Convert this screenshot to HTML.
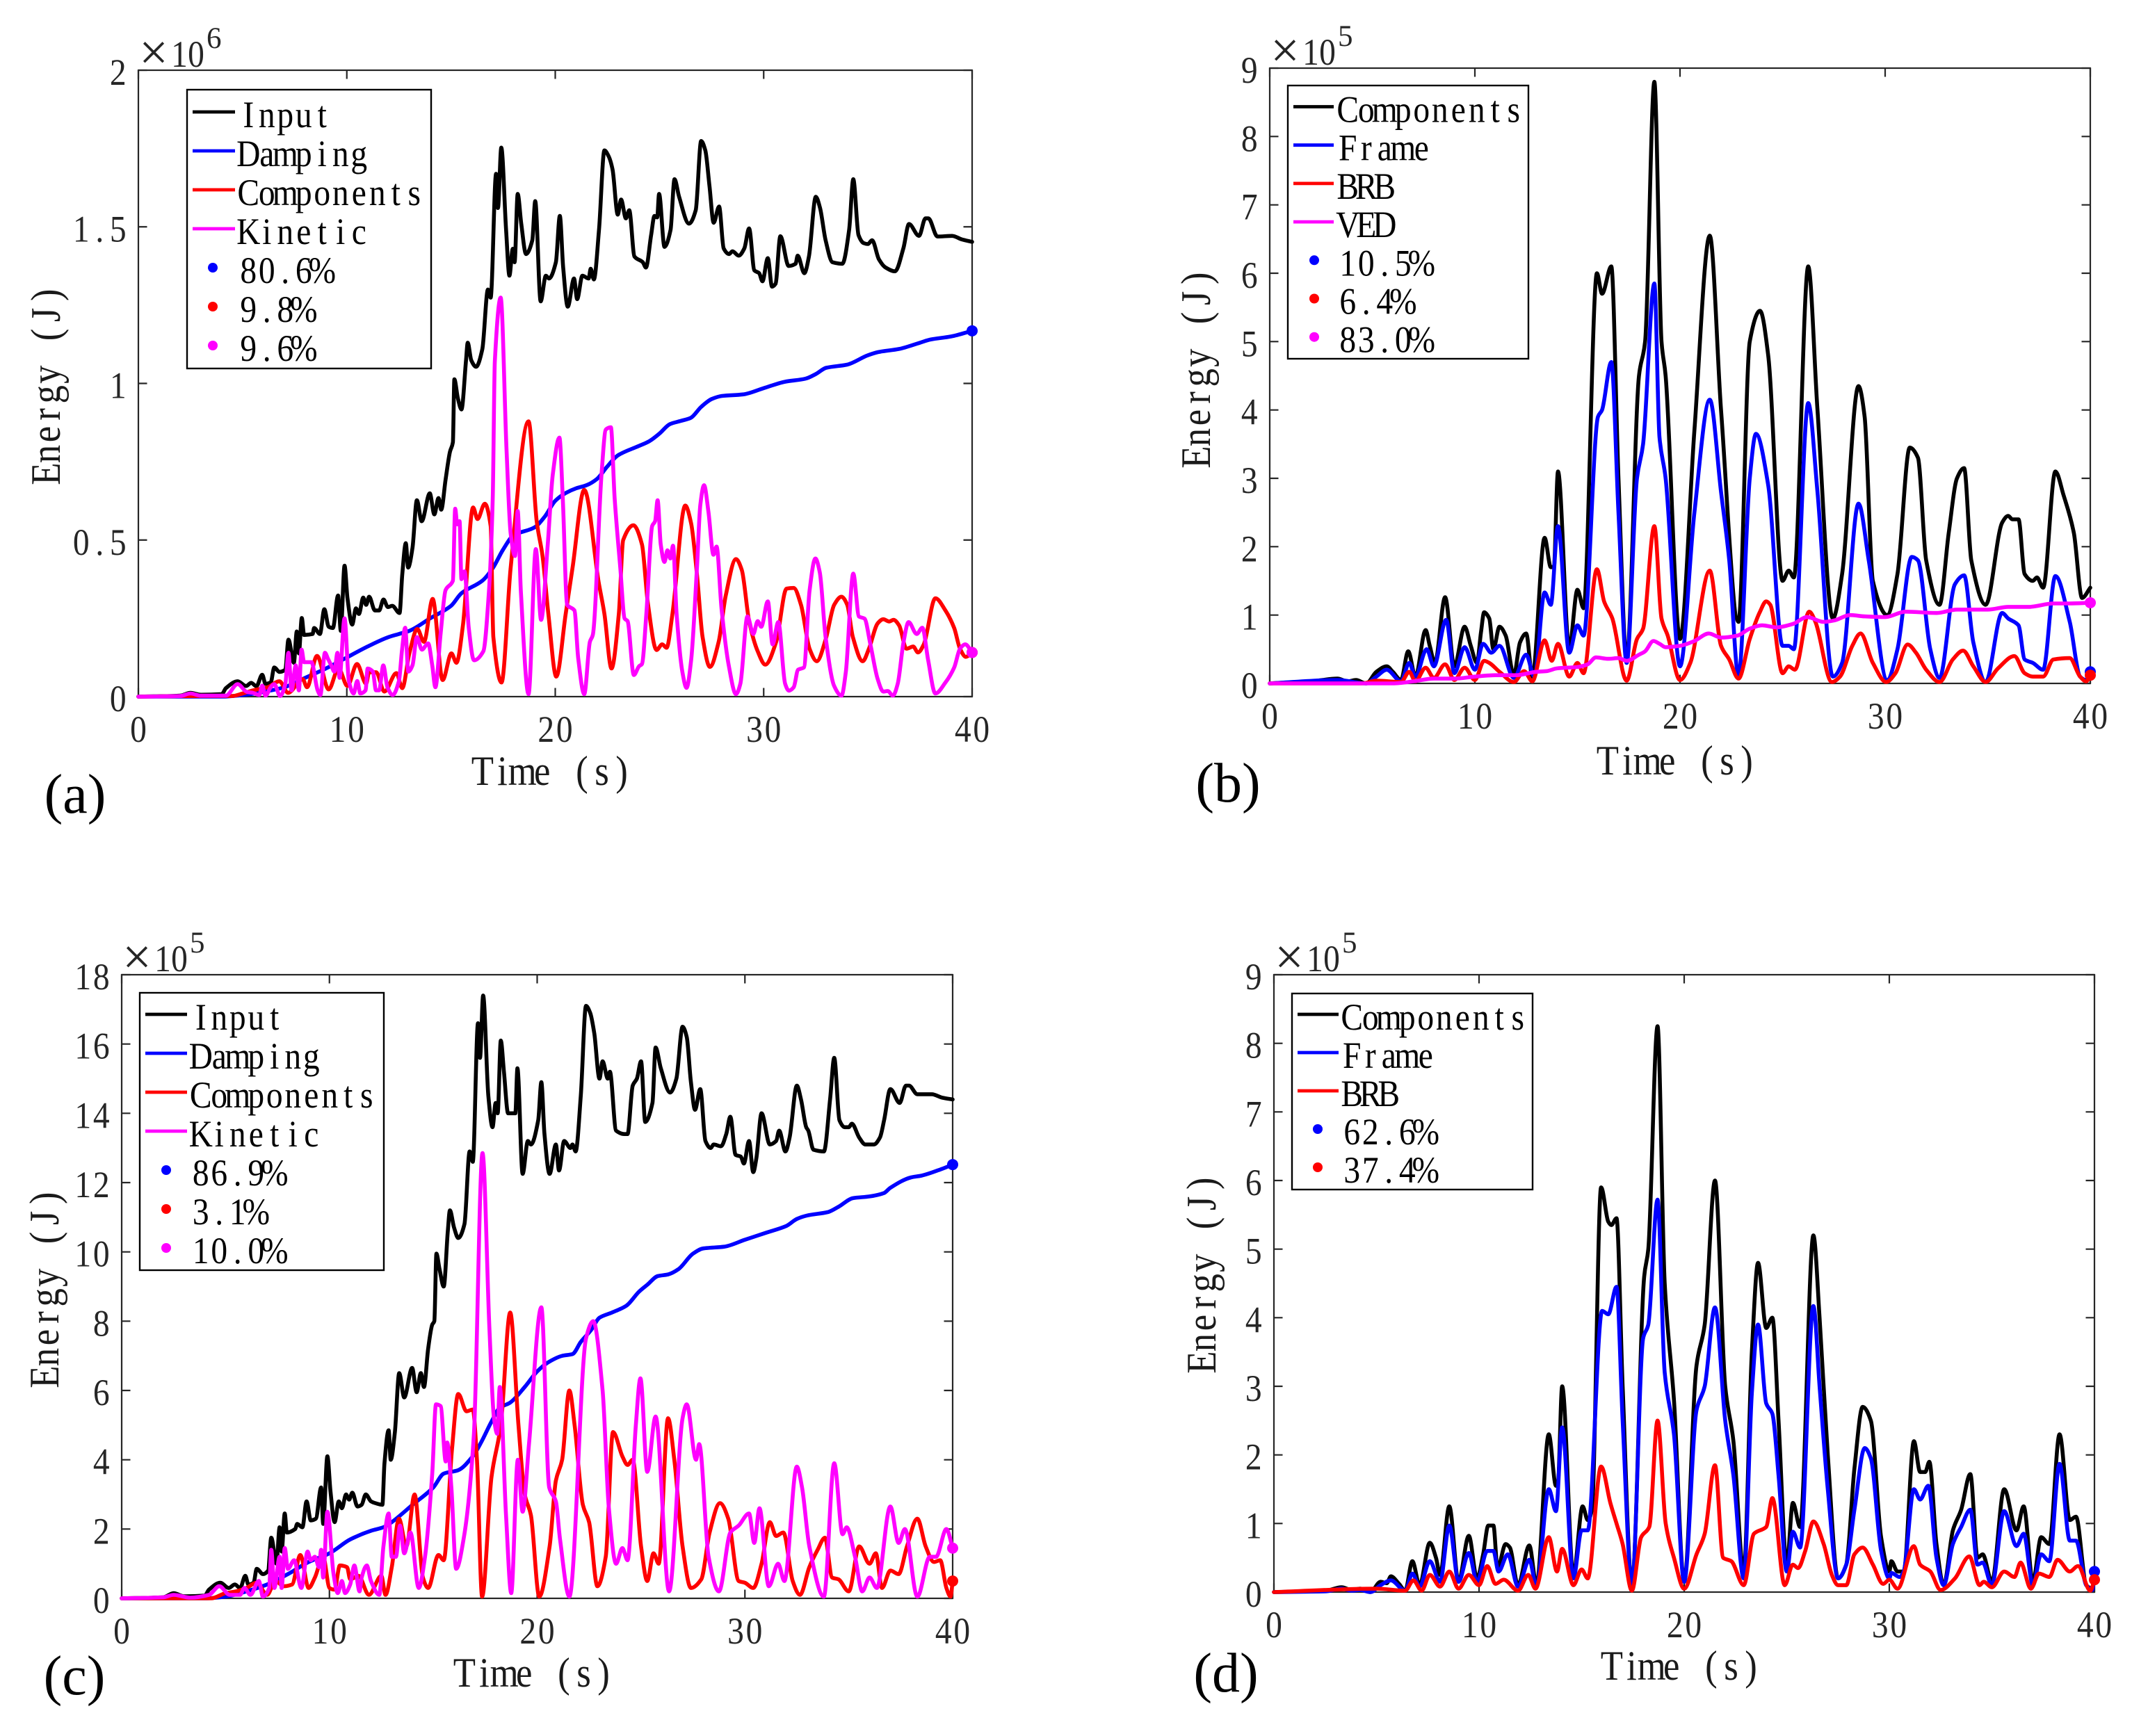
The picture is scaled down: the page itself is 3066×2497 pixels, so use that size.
<!DOCTYPE html>
<html lang="en">
<head>
<meta charset="utf-8">
<title>Energy time histories</title>
<style>
html,body{margin:0;padding:0;background:#fff;}
svg{display:block;}
text{font-family:"Liberation Serif","Noto Serif CJK SC",serif;}
</style>
</head>
<body>
<svg id="figure" xmlns="http://www.w3.org/2000/svg" width="3066" height="2497" viewBox="0 0 3066 2497">
<rect x="0" y="0" width="3066" height="2497" fill="#fff"/>
</svg>
<script>
// ---------- shared axis data ----------
const xTickValues=[0,10,20,30,40];
const xTickLabels=['0','10','20','30','40'];
const xMax=40;

// ---------- panel (a), values in 1e6 J ----------
const aYTicks=[0,0.5,1,1.5,2];
const aYLabels=['0','0.5','1','1.5','2'];
const aLegend=['Input','Damping','Components','Kinetic','80.6%','9.8%','9.6%'];
const aInputT=[0,2,2.5,3,4,4.2,4.76,5.17,5.41,5.66,5.94,6.1,6.35,6.52,6.77,7.05,7.2,7.46,7.6,7.7,7.84,7.95,8.36,8.43,8.71,8.92,9.13,9.33,9.58,9.71,9.89,10.03,10.26,10.44,10.58,10.79,10.93,11.07,11.35,11.55,11.76,11.97,12.18,12.53,12.66,12.83,12.94,13.15,13.36,13.59,13.98,14.2,14.4,14.53,14.74,14.95,15.09,15.16,15.33,15.5,15.72,15.8,15.97,16.2,16.5,16.77,16.9,17.16,17.25,17.41,17.64,17.8,17.96,18.05,18.2,18.37,18.6,18.9,19.04,19.3,19.55,19.7,20.03,20.22,20.38,20.6,20.9,21.05,21.3,21.6,21.7,21.85,22.1,22.36,22.55,22.75,23,23.16,23.39,23.55,23.8,24.2,24.35,24.6,24.76,24.89,24.98,25.24,25.53,25.72,25.94,26.42,26.74,27,27.2,27.4,27.6,27.86,28.08,28.34,28.5,28.8,29.07,29.3,29.55,29.78,29.94,30.2,30.4,30.57,30.8,31.2,31.53,31.63,31.95,32.17,32.5,32.7,32.97,33.3,33.77,34.1,34.3,34.55,34.8,35,35.2,35.53,35.85,36.3,36.7,36.97,37.45,37.76,37.9,38.34,39.04,39.5,40];
const aInputV=[0,.003,.012,.006,.008,.027,.049,.034,.044,.033,.07,.041,.045,.093,.079,.086,.182,.108,.208,.138,.251,.197,.2,.219,.2,.279,.223,.219,.323,.21,.418,.316,.23,.282,.264,.316,.293,.319,.275,.275,.31,.286,.29,.267,.39,.49,.412,.475,.627,.56,.649,.582,.634,.597,.693,.782,.812,1.013,.952,.917,1.074,1.13,1.074,1.053,1.109,1.3,1.274,1.669,1.56,1.753,1.49,1.344,1.43,1.387,1.605,1.51,1.413,1.457,1.582,1.262,1.344,1.335,1.387,1.535,1.37,1.245,1.335,1.269,1.344,1.335,1.366,1.332,1.49,1.744,1.727,1.683,1.539,1.587,1.527,1.553,1.405,1.387,1.37,1.474,1.535,1.53,1.605,1.436,1.49,1.652,1.596,1.51,1.553,1.774,1.744,1.63,1.513,1.565,1.431,1.413,1.422,1.408,1.431,1.495,1.361,1.352,1.326,1.4,1.309,1.318,1.47,1.375,1.382,1.408,1.352,1.405,1.596,1.561,1.457,1.387,1.382,1.49,1.652,1.474,1.448,1.445,1.457,1.396,1.37,1.358,1.431,1.509,1.471,1.527,1.527,1.469,1.471,1.46,1.452];
const aDampingT=[0,4,5,6,7,8,9,10,11,12,12.5,13,14,15,15.5,16.5,17,17.5,18,19,19.5,20,20.5,21,21.5,22,22.5,23,24,24.5,25,25.5,26,26.5,27,27.5,28,29,30,31,32,32.5,33,34,35,35.5,36.5,37.5,38,39,40];
const aDampingV=[0,0,.005,.015,.03,.06,.09,.125,.16,.19,.2,.21,.25,.29,.33,.37,.41,.47,.515,.54,.575,.625,.65,.665,.675,.695,.735,.77,.8,.815,.84,.87,.88,.89,.925,.95,.96,.965,.985,1.005,1.015,1.03,1.05,1.06,1.09,1.10,1.11,1.13,1.14,1.15,1.168];
const aCompT=[0,3,4.5,5,5.5,6.2,6.77,7.18,7.88,8.09,8.57,9.13,9.6,10.03,10.49,10.93,11.07,11.41,11.8,12.38,12.66,13,13.38,13.7,14.12,14.6,15.02,15.26,15.57,16.06,16.27,16.62,16.9,17.03,17.42,17.86,18.72,19.11,19.39,19.67,20.05,20.5,20.83,21.39,22.08,22.36,22.7,23.05,23.26,23.75,24.16,24.44,24.86,25.13,25.34,25.62,26.24,26.52,26.8,27.07,27.42,27.84,28.18,28.67,28.95,29.3,29.71,30.08,30.6,31.1,31.44,31.79,32.2,32.55,32.97,33.38,33.73,34.01,34.28,34.75,35.05,35.47,35.74,36.02,36.23,36.5,36.85,37.17,37.4,37.68,38.24,38.72,39.14,39.42,39.7,40];
const aCompV=[0,.002,.002,.01,.02,.03,.049,.012,.056,.03,.13,.023,.09,.034,.104,.041,.078,.078,.016,.075,.027,.138,.216,.175,.312,.053,.138,.108,.227,.604,.567,.616,.545,.19,.045,.412,.879,.56,.449,.264,.064,.264,.412,.66,.367,.264,.09,.264,.5,.547,.486,.3,.149,.167,.156,.264,.61,.553,.39,.19,.095,.175,.323,.439,.404,.241,.145,.102,.175,.345,.347,.293,.153,.113,.182,.293,.319,.293,.19,.113,.153,.234,.247,.24,.245,.227,.153,.16,.141,.167,.314,.275,.219,.153,.127,.141];
const aKineticT=[0,2,2.5,3,4.2,4.76,5.2,5.5,5.8,5.94,6.1,6.35,6.52,6.8,7.05,7.2,7.35,7.55,7.7,7.83,7.95,8.3,8.6,8.73,8.95,9.1,9.25,9.4,9.55,9.65,9.89,10.1,10.33,10.5,10.65,10.9,11,11.25,11.4,11.55,11.75,11.95,12.2,12.5,12.65,12.8,12.95,13.15,13.36,13.6,13.9,14.1,14.25,14.5,14.74,15.09,15.2,15.3,15.41,15.5,15.65,15.85,16.1,16.55,16.82,17,17.1,17.38,17.66,17.86,18.07,18.2,18.35,18.72,19.07,19.32,19.64,19.88,20.2,20.36,20.57,20.92,21.1,21.39,21.66,21.8,22.22,22.43,22.67,22.85,23.12,23.33,23.47,23.77,24.02,24.16,24.37,24.65,24.79,24.91,25.06,25.24,25.38,25.52,25.65,25.82,26.1,26.3,26.52,26.8,26.96,27.14,27.35,27.59,27.74,27.98,28.32,28.67,28.88,29.22,29.5,29.71,29.88,30.2,30.43,30.7,31.03,31.21,31.44,31.65,31.93,32.2,32.48,32.69,32.97,33.38,33.73,33.94,34.3,34.57,34.84,35.12,35.47,35.74,35.95,36.2,36.43,36.71,36.95,37.34,37.61,37.89,38.24,38.72,39.14,39.42,39.67,40];
const aKineticV=[0,.002,.01,.003,.003,.04,.015,.012,.005,.035,.003,.03,.04,.002,.04,.14,.02,.1,.02,.15,.11,.11,.02,.005,.14,.12,.1,.08,.14,.06,.25,.05,.01,.05,.01,.02,.09,.08,.02,.02,.1,.03,.005,.05,.15,.22,.08,.1,.19,.15,.17,.1,.03,.2,.34,.37,.6,.55,.56,.375,.4,.22,.116,.145,.338,.634,1.07,1.274,.79,.52,.449,.593,.338,.008,.471,.245,.486,.708,.827,.634,.293,.275,.123,.008,.175,.197,.708,.853,.86,.634,.412,.249,.241,.069,.097,.104,.264,.545,.56,.627,.486,.43,.467,.441,.482,.264,.079,.028,.116,.412,.612,.675,.59,.453,.479,.279,.101,.008,.041,.256,.2,.241,.223,.304,.167,.238,.041,.019,.03,.086,.093,.338,.441,.397,.19,.034,.003,.079,.393,.256,.249,.167,.056,.016,.018,.003,.041,.175,.238,.2,.22,.116,.01,.045,.093,.153,.167,.141];

// ---------- panel (b), values in 1e5 J ----------
const bYTicks=[0,1,2,3,4,5,6,7,8,9];
const bYLabels=['0','1','2','3','4','5','6','7','8','9'];
const bLegend=['Components','Frame','BRB','VED','10.5%','6.4%','83.0%'];
const bCompT=[0,2,3.3,3.8,4.2,4.7,5.2,5.7,6,6.4,6.75,7.1,7.6,7.8,8.05,8.55,9,9.5,9.8,10.1,10.3,10.45,10.7,10.9,11.2,11.5,11.9,12.2,12.5,12.8,13.4,13.7,13.85,14.05,14.6,15,15.3,15.95,16.2,16.65,17,17.4,18,18.3,18.75,19.1,19.3,20,20.7,21.45,22,22.85,23.4,23.9,24.3,25,25.3,25.55,26.25,26.7,27.45,27.9,28.7,29,29.4,30.1,30.6,31.2,31.6,32,32.65,33.1,33.5,33.85,34.2,34.9,35.7,36,36.2,36.5,36.8,37.2,37.4,37.7,38.3,38.7,39.2,39.6,40];
const bCompV=[0,.03,.07,.03,.05,0,.17,.25,.17,.05,.47,.1,.78,.55,.3,1.26,.25,.83,.55,.3,.75,1.04,.95,.5,.83,.7,.12,.6,.73,.1,2.13,1.7,1.7,3.1,.52,1.37,1.1,6,5.7,6.1,3,.35,4.5,5,8.8,5,4.5,.65,3.7,6.55,4,.9,5,5.45,4.8,1.5,1.65,1.55,6.1,4,.95,1.6,4.35,3.9,1.5,1,1.6,3.45,3.3,1.8,1.15,2.2,3,3.15,1.8,1.15,2.35,2.45,2.4,2.4,1.6,1.5,1.55,1.4,3.1,2.75,2.2,1.25,1.4];
const bFrameT=[0,3.3,4.7,5.2,5.7,6.4,6.8,7.1,7.65,8,8.6,9,9.5,10,10.4,10.8,11.2,11.9,12.5,12.9,13.4,13.7,14.05,14.6,15,15.3,16,16.2,16.65,17,17.4,17.9,18.2,18.75,19,19.3,20,20.7,21.45,22,22.4,22.85,23.4,23.7,24.3,25,25.3,25.55,26.25,26.7,27.45,27.9,28.7,29.2,30.1,30.6,31.3,31.6,32.2,32.65,33.4,33.85,34.3,34.9,35.7,36,36.5,36.8,37.2,37.7,38.3,39,39.5,39.8,40];
const bFrameV=[0,.05,0,.1,.2,.03,.3,.1,.5,.25,.93,.15,.53,.2,.58,.45,.55,.08,.42,.1,1.33,1.15,2.3,.45,.85,.7,3.9,4,4.7,2.5,.3,3,3.5,5.85,3.6,3,.25,2.5,4.15,2.8,1.8,.1,3,3.65,2.9,.55,.55,.5,4.1,2.8,.1,.3,2.63,1.8,.05,.5,1.85,1.8,.5,.08,1.45,1.58,.6,.02,1.03,.95,.85,.35,.3,.2,1.57,.9,.1,.05,.17];
const bBrbT=[0,4.5,5.2,6.4,6.8,7.1,7.6,8,8.55,9,9.5,10,10.45,10.7,11.2,11.9,12.4,12.8,13.4,13.75,14.05,14.6,15,15.3,15.95,16.3,16.7,17.4,17.9,18.2,18.75,19.1,19.4,20,20.5,21.45,22,22.4,22.85,23.4,23.9,24.2,24.4,25,25.3,25.6,26.3,26.6,27.4,27.8,28.4,28.8,29.4,30.05,30.5,31.1,31.5,32,32.65,33.3,33.8,34.3,34.9,35.5,36.3,36.8,37.2,37.7,38.2,39,39.5,39.8,40];
const bBrbV=[0,0,.04,.02,.17,.03,.23,.08,.28,.05,.23,.05,.33,.3,.17,.02,.18,.03,.63,.33,.58,.1,.3,.15,1.67,1.2,.95,.04,.65,.8,2.3,.95,.7,.05,.3,1.65,.55,.35,.07,.65,1.05,1.2,1.15,.15,.25,.2,1.05,.9,.02,.1,.55,.73,.3,.02,.15,.57,.45,.2,.02,.35,.48,.25,.02,.22,.4,.15,.1,.1,.35,.37,.1,.03,.12];
const bVedT=[0,6,7,8,9,10,11,12,13,13.5,14,15,15.5,15.9,16.5,17,17.4,18,18.3,18.7,19,19.3,20,20.7,21.4,22,22.8,23.4,24,24.7,25.5,26.2,27,27.5,28.3,29,30,31,32.5,33.5,35,36,37,38.2,39,40];
const bVedV=[0,0,.03,.07,.07,.1,.12,.12,.17,.18,.22,.24,.28,.38,.36,.37,.33,.42,.47,.62,.58,.53,.55,.62,.73,.67,.7,.8,.85,.82,.87,.97,.9,.92,1,.98,.97,1.05,1.03,1.08,1.08,1.12,1.12,1.17,1.17,1.18];

// ---------- panel (c), values in 1e5 J ----------
const cYTicks=[0,2,4,6,8,10,12,14,16,18];
const cYLabels=['0','2','4','6','8','10','12','14','16','18'];
const cLegend=['Input','Damping','Components','Kinetic','86.9%','3.1%','10.0%'];
const cInputT=[0,2,2.5,3,4,4.2,4.75,5.15,5.45,5.7,5.95,6.1,6.35,6.5,6.8,7.05,7.2,7.45,7.6,7.7,7.85,7.95,8.35,8.45,8.7,8.9,9.1,9.35,9.6,9.7,9.9,10.05,10.25,10.45,10.6,10.8,10.95,11.1,11.35,11.55,11.75,12,12.2,12.55,12.65,12.85,12.95,13.15,13.36,13.6,13.98,14.2,14.4,14.55,14.75,14.95,15.05,15.15,15.3,15.5,15.7,15.8,16,16.2,16.5,16.75,16.9,17.15,17.25,17.4,17.65,17.85,18,18.1,18.25,18.4,18.6,18.95,19.05,19.3,19.55,19.7,20.05,20.2,20.35,20.6,20.9,21.05,21.3,21.6,21.7,21.85,22.1,22.35,22.55,22.75,23,23.15,23.4,23.5,23.8,24.2,24.35,24.6,24.8,25,25.2,25.55,25.7,25.95,26.4,26.7,27,27.2,27.4,27.6,27.85,28.1,28.35,28.5,28.85,29.1,29.3,29.55,29.8,29.95,30.2,30.4,30.55,30.8,31.2,31.5,31.65,31.95,32.15,32.5,32.7,32.95,33.05,33.3,33.8,34.1,34.3,34.55,34.8,35,35.15,35.5,35.8,36.2,36.5,36.7,37,37.45,37.75,37.9,38.3,39,39.5,40];
const cInputV=[0,.03,.15,.06,.08,.25,.45,.3,.4,.3,.65,.4,.45,.85,.7,.8,1.75,1,2.05,1.35,2.45,1.9,2,2.15,2.05,2.8,2.25,2.3,3.2,2.15,4.1,3.1,2.2,2.8,2.6,3,2.85,3.05,2.65,2.7,3,2.8,2.75,2.7,3.9,4.85,4,4.8,6.5,5.8,6.65,5.95,6.5,6.1,7.2,7.9,8,9.95,9.5,9,10.6,11.2,10.7,10.4,10.8,12.9,12.6,16.6,15.6,17.4,14.5,13.6,14.3,14,16.1,15.2,14,14,15.3,12.25,13.2,13.1,13.8,14.9,13.4,12.25,13.1,12.35,13.2,13,13.1,12.9,14.5,17.1,16.9,16.3,15,15.5,15,15.2,13.5,13.4,13.4,14.8,15,15.5,13.75,14.3,15.9,15.3,14.6,15,16.5,16.2,14.9,14.1,14.7,13.2,13,13.1,13.05,13.4,13.9,12.8,12.75,12.55,13.2,12.3,12.7,14,13.1,13.2,13.5,12.9,13.3,14.8,14.4,13.6,13.5,12.95,12.9,14.4,15.6,13.8,13.6,13.6,13.7,13.3,13.1,13.1,13.3,13.8,14.7,14.3,14.8,14.8,14.55,14.55,14.45,14.4];
const cDampingT=[0,4,5,6,7,8,9,10,11,12,12.6,13,14,15,15.5,16.2,16.9,17.3,17.8,18.2,18.7,19.4,20,20.5,21.2,21.7,22.1,22.6,23,23.6,24.3,24.9,25.3,25.8,26.3,26.8,27.5,28,29,30,31,32,32.5,33,34,34.5,35.2,36,36.7,37,38,38.5,39.5,40];
const cDampingV=[0,0,.05,.2,.4,.7,1.05,1.3,1.7,1.95,2.05,2.2,2.7,3.2,3.6,3.7,4.1,4.5,5.1,5.5,5.65,6.1,6.55,6.8,7,7.05,7.4,7.75,8.1,8.25,8.45,8.85,9.05,9.3,9.35,9.5,9.95,10.1,10.15,10.35,10.55,10.75,10.95,11.05,11.15,11.3,11.55,11.6,11.7,11.85,12.15,12.2,12.4,12.52];
const cCompT=[0,4.3,5,5.5,6,6.5,7,7.4,7.8,8.2,8.6,9,9.3,9.7,10,10.25,10.5,10.85,11,11.4,11.9,12.5,12.7,13,13.35,13.7,14.1,14.5,14.75,15.25,15.5,15.9,16.2,16.6,16.9,17.1,17.35,17.8,18.25,18.7,19.1,19.4,19.7,20.1,20.6,20.9,21.2,21.55,21.8,22.2,22.5,22.9,23.3,23.65,24.1,24.35,24.6,25,25.3,25.6,25.85,26.3,26.6,27,27.4,27.9,28.3,28.8,29.2,29.7,30,30.4,30.8,31.2,31.5,31.85,32.3,32.65,33.1,33.5,33.85,34.2,34.5,35,35.5,36,36.3,36.6,37,37.4,37.8,38.3,38.7,39.1,39.4,39.7,39.9,40];
const cCompV=[0,0,.15,.2,.3,.45,.1,.5,.35,.4,1.25,.3,.6,1.2,.3,.25,.95,.9,.55,.65,.1,.65,.1,.9,2.3,1.5,3,.6,.3,1.25,1.1,4.3,5.9,5.4,5.45,4,.05,3.5,5,8.25,5,3,2.4,.05,1.5,3.4,4,6,5,2.7,2.2,.35,1.2,4.8,4.1,3.85,4,1.5,.5,1.3,1,5.2,4,1.5,.3,.55,1.9,2.75,2.3,.5,.45,.3,1,2.2,1.8,1.9,.5,.1,.9,1.4,1.75,.6,.55,.2,1.5,1,1.3,.3,.8,.7,1.5,2.3,1.5,1.05,1.1,.3,.05,.5];
const cKineticT=[0,2,2.5,3.3,4.2,4.7,5.2,5.7,5.9,6.2,6.6,6.8,7.1,7.2,7.35,7.6,7.7,7.85,8,8.3,8.65,8.95,9.1,9.3,9.5,9.6,9.7,9.9,10.2,10.4,10.6,10.75,11,11.2,11.45,11.55,11.8,12,12.4,12.6,12.85,13,13.2,13.4,13.6,13.9,14.3,14.6,14.95,15.13,15.35,15.6,15.67,15.87,16.1,16.47,16.95,17.37,17.7,17.92,18.08,18.2,18.5,18.75,19.07,19.3,19.6,20.2,20.58,20.9,21.1,21.55,22.35,22.7,23.15,23.45,23.8,24.1,24.35,24.75,24.97,25.3,25.7,26.35,27,27.2,27.65,27.8,28.25,28.75,29.3,29.7,30.2,30.45,30.7,31.15,31.6,31.9,32.5,32.75,33.1,33.8,34.3,34.7,34.9,35.3,35.65,36,36.35,37,37.4,37.7,38.3,38.9,39.2,39.7,40];
const cKineticV=[0,.03,.1,.02,.1,.35,.1,.1,.3,.1,.5,.05,.3,1.4,.3,1.2,.3,1.45,.85,1.1,.3,1.35,1.1,1.2,.9,1.4,.6,2.5,.7,.15,.5,.15,.4,.95,.2,.6,.95,.5,.1,1.5,2.45,1.2,1.2,2.1,1.3,1.9,.3,1.2,3.6,5.6,5.55,3.95,4.5,3.2,.85,1.75,4.7,12.85,7.8,5.2,4.75,6.1,2.4,.15,4,2.5,4.4,8.4,3.2,2.8,1.7,.05,7.5,8,6,2.6,1,1.45,1.1,5,6.35,3.65,5.25,.2,5.2,5.6,4,4.45,1.2,.2,1.9,2.1,2.45,1.6,2.6,.35,1,.5,3.8,3.2,1.5,.05,3.9,1.85,2.05,1.2,.2,.6,.3,2.65,1.6,2,.05,1.2,1.2,2,1.45];

// ---------- panel (d), values in 1e5 J ----------
const dYTicks=[0,1,2,3,4,5,6,7,8,9];
const dYLabels=['0','1','2','3','4','5','6','7','8','9'];
const dLegend=['Components','Frame','BRB','62.6%','37.4%'];
const dCompT=[0,2.5,3.3,3.8,4.2,4.7,5.2,5.5,5.7,6.1,6.4,6.75,7.1,7.6,7.9,8.1,8.55,9,9.5,9.9,10.2,10.45,10.7,10.9,11.3,11.5,11.9,12.45,12.8,13.4,13.75,13.85,14.05,14.6,15.05,15.3,15.5,15.95,16.3,16.45,16.7,17,17.45,18.05,18.25,18.7,19.05,19.5,20,20.6,21,21.5,22,22.4,22.9,23.3,23.6,24,24.3,24.6,25,25.3,25.65,26.3,26.6,27,27.5,27.9,28.3,28.7,29.1,29.6,30,30.1,30.4,30.7,31.2,31.5,31.75,31.95,32.3,32.65,33.1,33.5,33.95,34.3,34.55,35,35.6,36.2,36.55,37,37.4,37.8,38.3,38.8,39.1,39.6,39.9,40];
const dCompV=[0,.02,.07,.03,.05,0,.15,.13,.23,.12,.02,.45,.1,.72,.5,.25,1.25,.15,.82,.2,.55,.97,.97,.35,.7,.65,.1,.68,.1,2.3,1.55,1.6,3,.25,1.25,1.05,1.2,5.9,5.4,5.35,5.45,3,.1,4.6,5,8.25,4.5,2.8,.15,3.3,3.9,6,3,2.2,.3,3.5,4.8,3.85,4,2.5,.4,1.3,.95,5.2,4,2,.2,.4,1.8,2.7,2.5,.8,.3,.45,.3,.3,2.2,1.75,1.75,1.9,.7,.1,.9,1.2,1.72,.5,.55,.15,1.5,.9,1.25,.15,.8,.7,2.3,1.05,1.1,.1,.05,.35];
const dFrameT=[0,2.5,3.3,3.8,4.2,4.7,5.2,5.7,6.4,6.75,7.1,7.6,8.1,8.55,9,9.5,9.9,10.4,10.7,10.95,11.4,11.9,12.45,12.8,13.4,13.75,14.05,14.6,15,15.3,16,16.3,16.7,17,17.45,18,18.25,18.7,19.05,19.5,20,20.6,21,21.5,22,22.4,22.9,23.3,23.6,24,24.3,24.6,25,25.3,25.65,26.3,26.6,27,27.5,27.9,28.3,28.8,29.1,29.6,30,30.1,30.5,30.7,31.2,31.5,31.9,32.3,32.65,33.1,33.5,33.95,34.3,34.55,35,35.6,36.2,36.55,37,37.4,37.8,38.3,38.8,39.1,39.6,39.9,40];
const dFrameV=[0,.01,.05,.02,.03,0,.1,.17,.02,.27,.08,.45,.15,.97,.15,.57,.15,.6,.6,.3,.55,.08,.47,.08,1.5,1.18,2.4,.2,.9,.9,4.1,4.05,4.45,2.5,.1,3.7,3.9,5.72,3.2,2.3,.15,2.65,3,4.15,2.5,1.7,.2,2.9,3.9,2.75,2.6,1.7,.3,.88,.65,4.17,3,1.5,.2,.4,1.2,2.1,1.95,.6,.2,.28,.22,.3,1.5,1.35,1.55,.5,.1,.7,.95,1.2,.4,.43,.1,1.18,.67,.85,.1,.55,.45,1.87,.75,.75,.1,.03,.3];
const dBrbT=[0,5,6.4,6.8,7.2,7.6,8.1,8.55,9,9.5,10,10.4,10.8,11.2,11.9,12.4,12.75,13.4,13.8,14.05,14.6,15,15.3,15.95,16.4,16.7,17,17.45,17.9,18.3,18.7,19.1,19.5,20,20.6,21,21.5,21.9,22.3,22.9,23.4,24,24.3,24.9,25.3,25.55,25.9,26.3,26.8,27.2,27.5,27.9,28.3,28.7,29.2,29.7,30,30.4,31.2,31.5,32,32.5,33.2,33.9,34.4,34.6,35,35.6,36.1,36.4,36.9,37.3,37.8,38.2,38.8,39.2,39.8,40];
const dBrbV=[0,.05,.02,.17,.02,.25,.08,.3,.05,.25,.1,.38,.12,.18,.02,.25,.05,.8,.3,.63,.1,.33,.2,1.83,1.3,1,.7,.02,.8,.95,2.5,1,.5,.05,.55,.85,1.85,.5,.45,.1,.85,.95,1.37,.1,.4,.35,.6,1.03,.7,.25,.1,.1,.55,.65,.4,.12,.18,.05,.67,.4,.3,.03,.2,.52,.1,.15,.07,.3,.22,.43,.05,.27,.22,.47,.3,.38,.02,.18];

// ---------- layout / drawing ----------
const BLACK='#000000',BLUE='#0000ff',RED='#ff0000',MAGENTA='#ff00ff',AXIS='#262626';
const NS='http://www.w3.org/2000/svg';
const CELL=26.5,SQUEEZE=0.88;

function node(tag,attrs,parent){
  const e=document.createElementNS(NS,tag);
  for(const k in attrs){e.setAttribute(k,attrs[k]);}
  parent.appendChild(e);
  return e;
}
// half-width (fixed-cell) text, one glyph centred per cell
function cellText(str,x,y,size,cell,align,fill,parent,rotate){
  const n=str.length;
  const start=align==='end'?-n*cell:(align==='middle'?-n*cell/2:0);
  const xs=[];
  for(let i=0;i<n;i++){xs.push(((start+(i+.5)*cell)/SQUEEZE).toFixed(2));}
  const rot=rotate?' rotate(-90)':'';
  const t=node('text',{x:xs.join(' '),y:0,'text-anchor':'middle','font-size':size,fill:fill,transform:'translate('+x+' '+y+')'+rot+' scale('+SQUEEZE+' 1)'},parent);
  t.setAttribute('xml:space','preserve');
  t.style.whiteSpace='pre';
  t.textContent=str;
  return t;
}
// smooth path without overshoot (monotone cubic) through the data points
function linePath(ts,vs,sx,sy){
  const n=Math.min(ts.length,vs.length),X=[],Y=[];
  for(let i=0;i<n;i++){X.push(sx(ts[i]));Y.push(sy(vs[i]));}
  const m=[],d=[];
  for(let i=0;i<n-1;i++){d.push((Y[i+1]-Y[i])/(X[i+1]-X[i]));}
  m[0]=d[0];m[n-1]=d[n-2];
  for(let i=1;i<n-1;i++){m[i]=d[i-1]*d[i]<=0?0:2*d[i-1]*d[i]/(d[i-1]+d[i]);}
  let p='M'+X[0].toFixed(1)+' '+Y[0].toFixed(1);
  for(let i=0;i<n-1;i++){
    const h=(X[i+1]-X[i])/3;
    p+='C'+(X[i]+h).toFixed(1)+' '+(Y[i]+m[i]*h).toFixed(1)+' '+(X[i+1]-h).toFixed(1)+' '+(Y[i+1]-m[i+1]*h).toFixed(1)+' '+X[i+1].toFixed(1)+' '+Y[i+1].toFixed(1);
  }
  return p;
}

const panels=[
 {id:'a',L:199,R:1398,T:101,B:1002,yTicks:aYTicks,yLabels:aYLabels,exp:'6',
  xlab:[794,1129],ylab:[86,553],tag:[108,1169],
  series:[[aInputT,aInputV,BLACK,'input'],[aDampingT,aDampingV,BLUE,'damping'],[aCompT,aCompV,RED,'components'],[aKineticT,aKineticV,MAGENTA,'kinetic']],
  dots:[1,2,3],legend:aLegend,box:[269,129,620,530],rows:[161,56],lineX:[277,338],dotX:306,textX:344},
 {id:'b',L:1826,R:3006,T:98,B:983,yTicks:bYTicks,yLabels:bYLabels,exp:'5',
  xlab:[2412,1114],ylab:[1740,529],tag:[1766,1153],
  series:[[bCompT,bCompV,BLACK,'components'],[bFrameT,bFrameV,BLUE,'frame'],[bBrbT,bBrbV,RED,'brb'],[bVedT,bVedV,MAGENTA,'ved']],
  dots:[1,2,3],legend:bLegend,box:[1852,123,2198,516],rows:[153.5,55.2],lineX:[1860,1918],dotX:1890,textX:1925},
 {id:'c',L:175,R:1370,T:1402,B:2299,yTicks:cYTicks,yLabels:cYLabels,exp:'5',
  xlab:[768,2426],ylab:[84,1852],tag:[107,2437],
  series:[[cInputT,cInputV,BLACK,'input'],[cDampingT,cDampingV,BLUE,'damping'],[cCompT,cCompV,RED,'components'],[cKineticT,cKineticV,MAGENTA,'kinetic']],
  dots:[1,2,3],legend:cLegend,box:[201,1428,552,1827],rows:[1459,56],lineX:[209,269],dotX:239,textX:275.5},
 {id:'d',L:1832,R:3012,T:1402,B:2290,yTicks:dYTicks,yLabels:dYLabels,exp:'5',
  xlab:[2418,2416],ylab:[1748,1831],tag:[1763,2433],
  series:[[dCompT,dCompV,BLACK,'components'],[dFrameT,dFrameV,BLUE,'frame'],[dBrbT,dBrbV,RED,'brb']],
  dots:[1,2],legend:dLegend,box:[1858,1429,2204,1711],rows:[1459,55],lineX:[1866,1925],dotX:1895,textX:1931}
];

const fig=document.getElementById('figure');
panels.forEach(function(P){
  const g=node('g',{},fig);
  
  
  const yMax=P.yTicks[P.yTicks.length-1];
  const sx=function(t){return P.L+(P.R-P.L)*t/xMax;};
  const sy=function(v){return P.B-(P.B-P.T)*v/yMax;};

  // axes frame
  const frame=node('rect',{x:P.L,y:P.T,width:P.R-P.L,height:P.B-P.T,fill:'none',stroke:AXIS,'stroke-width':2.2},g);
  
  

  // x ticks + labels
  xTickValues.forEach(function(v,i){
    const x=sx(v);
    const tk=node('path',{d:'M'+x+' '+P.B+'v-12.5M'+x+' '+P.T+'v12.5',stroke:AXIS,'stroke-width':2.2,fill:'none'},g);
    
    
    const lb=cellText(xTickLabels[i],x,P.B+65,54,CELL,'middle',AXIS,g);
    
    
  });
  // y ticks + labels
  P.yTicks.forEach(function(v,i){
    const y=sy(v);
    const tk=node('path',{d:'M'+P.L+' '+y+'h12.5M'+P.R+' '+y+'h-12.5',stroke:AXIS,'stroke-width':2.2,fill:'none'},g);
    
    
    const lb=cellText(P.yLabels[i],P.L-16,y+21,54,CELL,'end',AXIS,g);
    
    
  });
  // exponent
  const ex=node('g',{},g);
  
  
  const ex1=node('text',{x:P.L+22,y:P.T-1,'text-anchor':'middle','font-size':74,fill:AXIS},ex);
  ex1.textContent='\u00d7';
  const ex2=cellText('10',P.L+47,P.T-5,54,24,'start',AXIS,ex);
  
  const ex3=node('text',{x:P.L+98,y:P.T-32,'font-size':43,fill:AXIS},ex);
  ex3.textContent=P.exp;

  // axis titles
  const xt=cellText('Time (s)',P.xlab[0],P.xlab[1],60,28.6,'middle','#1a1a1a',g);
  
  
  const yt=cellText('Energy (J)',P.ylab[0],P.ylab[1],60,28.6,'middle','#1a1a1a',g,true);
  
  

  // panel tag
  const tg=node('text',{x:P.tag[0],y:P.tag[1],'text-anchor':'middle','font-size':80,fill:'#000'},g);
  tg.textContent='('+P.id+')';
  
  

  // series lines
  P.series.forEach(function(s){
    const ln=node('path',{d:linePath(s[0],s[1],sx,sy),fill:'none',stroke:s[2],'stroke-width':5.6,'stroke-linejoin':'round','stroke-linecap':'round'},g);
    
    
  });
  // end-of-record dots
  P.dots.forEach(function(k){
    const s=P.series[k];
    const last=Math.min(s[0].length,s[1].length)-1;
    const dt=node('circle',{cx:sx(s[0][last]),cy:sy(s[1][last]),r:8,fill:s[2]},g);
    
    
  });

  // legend
  const lg=node('g',{},g);
  
  
  const b=P.box;
  const lb=node('rect',{x:b[0],y:b[1],width:b[2]-b[0],height:b[3]-b[1],fill:'#fff',stroke:'#000','stroke-width':2.4},lg);
  
  
  const ns=P.series.length;
  P.legend.forEach(function(txt,i){
    const y=P.rows[0]+i*P.rows[1];
    const en=node('g',{},lg);
    
    
    if(i<ns){
      node('line',{x1:P.lineX[0],x2:P.lineX[1],y1:y,y2:y,stroke:P.series[i][2],'stroke-width':4.8},en);
    }else{
      node('circle',{cx:P.dotX,cy:y,r:7,fill:P.series[P.dots[i-ns]][2]},en);
    }
    cellText(txt,P.textX,y+22,54,CELL,'start','#000',en);
  });
});
</script>
</body>
</html>
